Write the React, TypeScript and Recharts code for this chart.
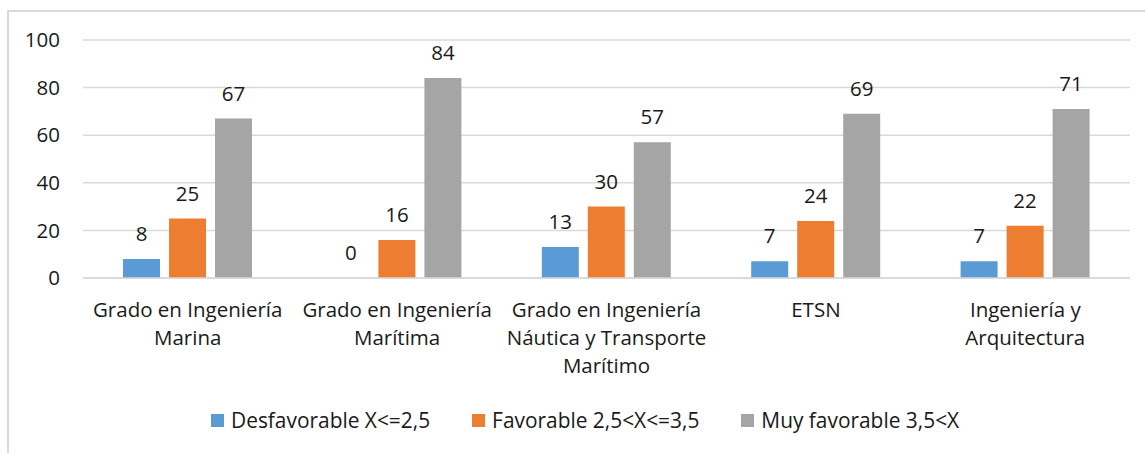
import React from 'react';
import { BarChart, Bar, XAxis, YAxis, CartesianGrid, Legend, LabelList } from 'recharts';

const categories = [
  'Grado en Ingeniería\nMarina',
  'Grado en Ingeniería\nMarítima',
  'Grado en Ingeniería\nNáutica y Transporte\nMarítimo',
  'ETSN',
  'Ingeniería y\nArquitectura',
];
const desfavorable = [8, 0, 13, 7, 7];
const favorable = [25, 16, 30, 24, 22];
const muyFavorable = [67, 84, 57, 69, 71];
const yTicks = [0, 20, 40, 60, 80, 100];

const series = [
  { key: 'desfavorable', name: 'Desfavorable X<=2,5', color: '#5B9BD5' },
  { key: 'favorable', name: 'Favorable 2,5<X<=3,5', color: '#ED7D31' },
  { key: 'muyFavorable', name: 'Muy favorable 3,5<X', color: '#A5A5A5' },
];

const data = categories.map((name, i) => ({
  name,
  desfavorable: desfavorable[i],
  favorable: favorable[i],
  muyFavorable: muyFavorable[i],
}));

const FONT = '"Open Sans", Lato, sans-serif';
const TEXT = '#1a1a1a';
const FS = 20.5;

const CategoryTick = (props: any) => {
  const { x, y, payload } = props;
  const lines = String(payload.value).split('\n');
  return (
    <text x={x} y={y} textAnchor="middle" fill={TEXT} fontSize={FS} fontFamily={FONT}>
      {lines.map((line, i) => (
        <tspan key={i} x={x} y={y + 39 + i * 28}>
          {line}
        </tspan>
      ))}
    </text>
  );
};

const ValueLabel = (props: any) => {
  const { x, y, width, value } = props;
  return (
    <text x={Number(x) + Number(width) / 2} y={Number(y) - 18} textAnchor="middle" fill={TEXT} fontSize={FS} fontFamily={FONT}>
      {String(value)}
    </text>
  );
};

const LegendContent = () => (
  <div style={{ display: 'flex', fontFamily: FONT, fontSize: 20.9, color: TEXT, whiteSpace: 'nowrap' }}>
    {series.map((s) => (
      <div key={s.key} style={{ display: 'flex', alignItems: 'center', marginRight: 42 }}>
        <span style={{ width: 13, height: 13, background: s.color, marginRight: 7, display: 'inline-block' }} />
        <span>{s.name}</span>
      </div>
    ))}
  </div>
);

export default function App() {
  return (
    <div style={{ position: 'absolute', left: 0, top: 0, width: 1145, height: 453, background: '#fff' }}>
      <div
        style={{
          position: 'absolute',
          left: 7,
          top: 10,
          right: 0,
          bottom: 0,
          borderTop: '2px solid #d9d9d9',
          borderLeft: '2px solid #d9d9d9',
        }}
      />
      <BarChart
        width={1145}
        height={453}
        data={data}
        margin={{ top: 40, right: 15, left: 23, bottom: 75 }}
        barGap={9}
        barCategoryGap={40}
        style={{ position: 'absolute', left: 0, top: 0 }}
      >
        <CartesianGrid vertical={false} stroke="#d9d9d9" strokeWidth={1.5} />
        <XAxis
          dataKey="name"
          axisLine={{ stroke: '#d9d9d9', strokeWidth: 1.5 }}
          tickLine={false}
          tickSize={0}
          tickMargin={0}
          height={100}
          interval={0}
          tick={<CategoryTick />}
        />
        <YAxis
          width={60}
          domain={[0, 100]}
          ticks={yTicks}
          axisLine={false}
          tickLine={false}
          tickSize={0}
          tickMargin={23}
          tick={{ fill: TEXT, fontSize: FS, fontFamily: FONT }}
        />
        <Legend
          layout="horizontal"
          verticalAlign="middle"
          align="center"
          content={<LegendContent />}
          wrapperStyle={{ left: 211, top: 406, width: 'auto' }}
        />
        {series.map((s) => (
          <Bar key={s.key} dataKey={s.key} name={s.name} fill={s.color} minPointSize={0.01} isAnimationActive={false}>
            <LabelList dataKey={s.key} content={<ValueLabel />} />
          </Bar>
        ))}
      </BarChart>
    </div>
  );
}
